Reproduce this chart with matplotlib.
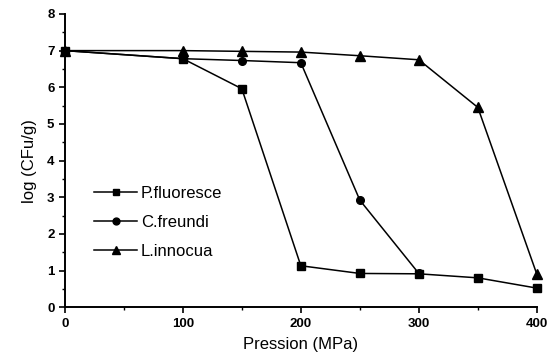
import numpy as np
import matplotlib.pyplot as plt
from matplotlib.ticker import MultipleLocator

# valeurs
p_fluo_x = [0, 100, 150, 200, 250, 300, 350, 400]
p_fluo_y = [7.0, 6.78, 5.96, 1.13, 0.92, 0.91, 0.80, 0.52]

c_freu_x = [0, 100, 150, 200, 250, 300]
c_freu_y = [7.0, 6.78, 6.73, 6.67, 2.92, 0.92]

l_inno_x = [0, 100, 150, 200, 250, 300, 350, 400]
l_inno_y = [7.0, 7.0, 6.98, 6.96, 6.86, 6.75, 5.45, 0.90]

plt.rcParams["font.family"] = ["Liberation Sans", "DejaVu Sans"]

fig = plt.figure(figsize=(5.54, 3.58), dpi=100)
ax = fig.add_axes([0.117, 0.142, 0.852, 0.819])

style = dict(color="black", linewidth=1.1, markersize=5.5, clip_on=False)
ax.plot(p_fluo_x, p_fluo_y, marker="s", label="P.fluoresce", **style)
ax.plot(c_freu_x, c_freu_y, marker="o", label="C.freundi", **style)
ax.plot(l_inno_x, l_inno_y, marker="^", markersize=6.5, label="L.innocua",
        color="black", linewidth=1.1, clip_on=False)

ax.set_xlim(0, 400)
ax.set_ylim(0, 8)
ax.xaxis.set_major_locator(MultipleLocator(100))
ax.xaxis.set_minor_locator(MultipleLocator(50))
ax.yaxis.set_major_locator(MultipleLocator(1))
ax.yaxis.set_minor_locator(MultipleLocator(0.5))

for s in ["top", "right"]:
    ax.spines[s].set_visible(False)
for s in ["left", "bottom"]:
    ax.spines[s].set_linewidth(1.4)

ax.tick_params(which="major", direction="out", length=4, width=1.2,
               labelsize=9.5)
ax.tick_params(which="minor", direction="out", length=2.5, width=1.0)
for lab in ax.get_xticklabels() + ax.get_yticklabels():
    lab.set_fontweight("bold")

ax.set_xlabel("Pression (MPa)", fontsize=12, labelpad=5)
ax.set_ylabel("log (CFu/g)", fontsize=12, labelpad=7)

ax.legend(loc="upper left", bbox_to_anchor=(0.03, 0.465), frameon=False,
          fontsize=12, handlelength=2.6, handletextpad=0.2,
          labelspacing=0.85, markerscale=0.9)

fig.savefig("out.png", dpi=100)
